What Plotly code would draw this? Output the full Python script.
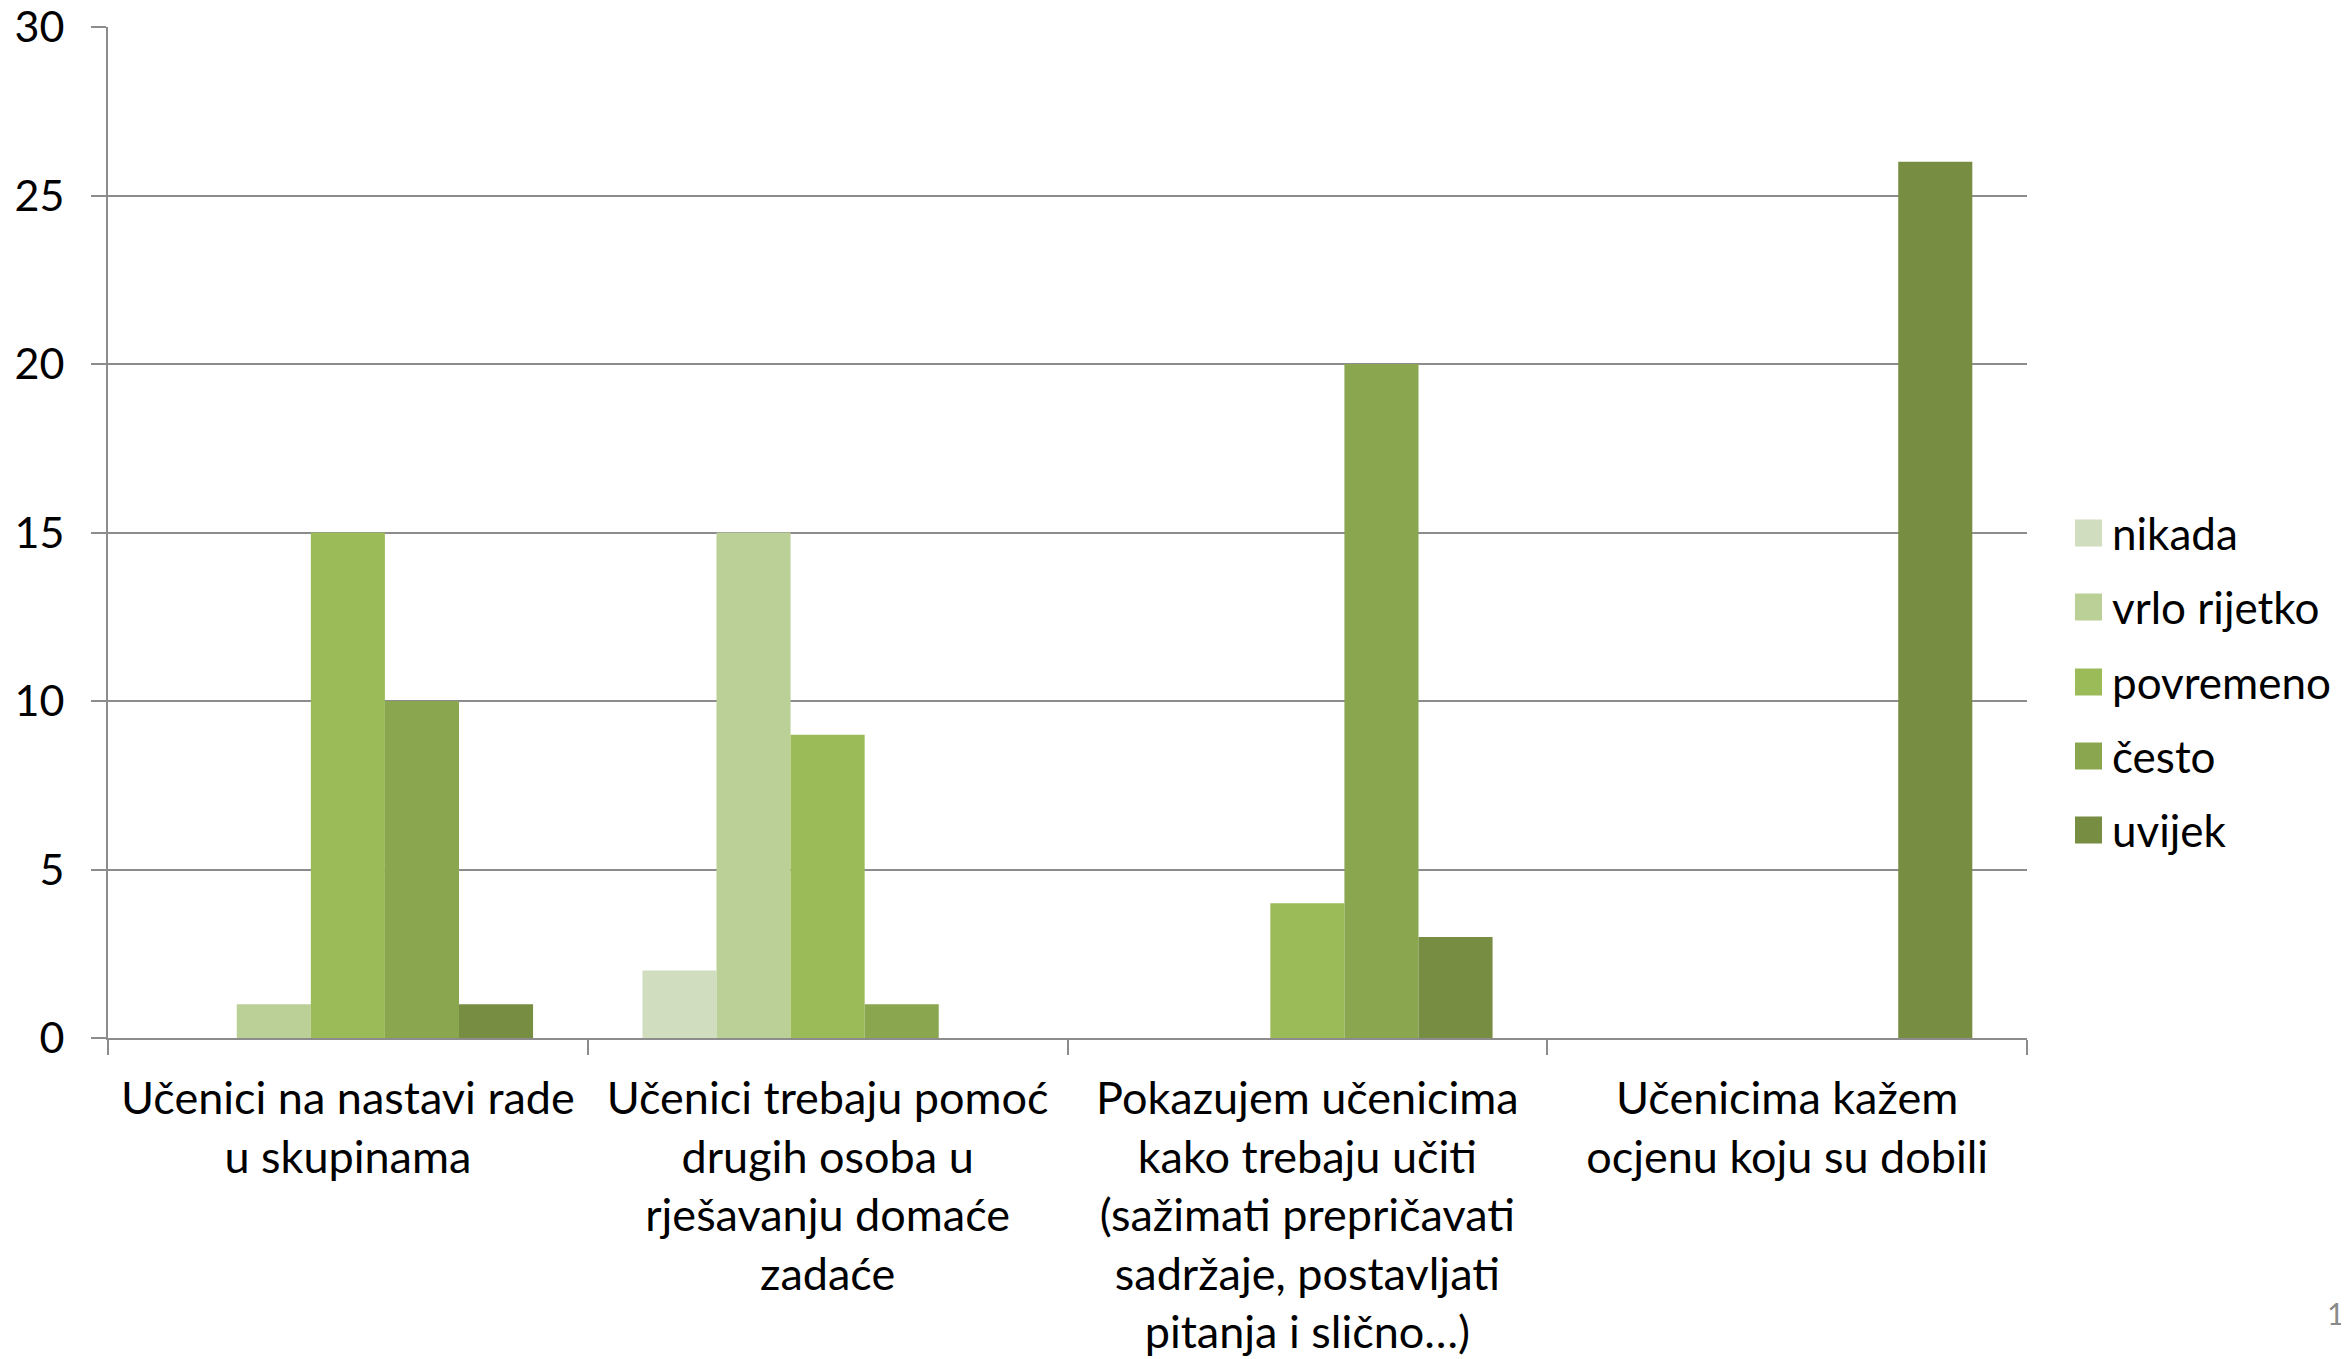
import plotly.graph_objects as go

categories = [
    "Učenici na nastavi rade<br>u skupinama",
    "Učenici trebaju pomoć<br>drugih osoba u<br>rješavanju domaće<br>zadaće",
    "Pokazujem učenicima<br>kako trebaju učiti<br>(sažimati prepričavati<br>sadržaje, postavljati<br>pitanja i slično…)",
    "Učenicima kažem<br>ocjenu koju su dobili",
]
series_names = ["nikada", "vrlo rijetko", "povremeno", "često", "uvijek"]
nikada = [0, 2, 0, 0]
vrlo_rijetko = [1, 15, 0, 0]
povremeno = [15, 9, 4, 0]
cesto = [10, 1, 20, 0]
uvijek = [1, 0, 3, 26]
series_values = [nikada, vrlo_rijetko, povremeno, cesto, uvijek]
colors = ["#D1DDBF", "#BBD097", "#9BBB59", "#8AA64F", "#768D42"]
y_ticks = [0, 5, 10, 15, 20, 25, 30]

FONT = "Lato"
GRAY = "#8C8C8C"
OFF = 8  # default page body margin
W, H = 2349 - OFF, 1359 - OFF
# plot area in page pixels
PL, PR, PT, PB = 108, 2027, 27, 1038
L, R, T, B = PL - OFF, PR - OFF, PT - OFF, PB - OFF


def px(xp):
    return (xp - OFF - L) / (R - L)


def py(yp):
    return (B - (yp - OFF)) / (B - T)


fig = go.Figure()
for name, vals, col in zip(series_names, series_values, colors):
    fig.add_trace(go.Bar(x=categories, y=vals, name=name, showlegend=False,
                         marker=dict(color=col, line=dict(width=0))))

fig.update_layout(
    width=W, height=H,
    margin=dict(l=L, r=W - R, t=T, b=H - B, autoexpand=False),
    paper_bgcolor="white", plot_bgcolor="white",
    barmode="group", bargap=0.228, bargroupgap=0,
    font=dict(family=FONT, color="black", size=44),
    showlegend=False,
    xaxis=dict(showline=True, linecolor=GRAY, linewidth=2,
               ticks="outside", tickson="boundaries", ticklen=15, tickwidth=2,
               tickcolor=GRAY, showgrid=False, ticklabelstandoff=20,
               tickfont=dict(size=45, family=FONT)),
    yaxis=dict(range=[0, 30.0001], tickvals=y_ticks, showline=True, linecolor=GRAY,
               linewidth=2, ticks="outside", ticklen=15, tickwidth=2,
               tickcolor=GRAY, showgrid=True, gridcolor=GRAY, gridwidth=2,
               zeroline=False, tickfont=dict(size=43, family=FONT),
               ticklabelstandoff=18, ticklabeloverflow="allow"),
)

# manual legend (large square swatches, as in the reference)
row_y = [533, 607, 682, 756, 830]
for name, col, yc in zip(series_names, colors, row_y):
    fig.add_shape(type="rect", xref="paper", yref="paper",
                  x0=px(2075), x1=px(2102), y0=py(yc + 13.5), y1=py(yc - 13.5),
                  fillcolor=col, line=dict(width=0))
    fig.add_annotation(text=name, xref="paper", yref="paper", x=px(2110), y=py(yc),
                       xanchor="left", yanchor="middle", showarrow=False,
                       font=dict(size=44, family=FONT, color="black"))

fig.add_annotation(text="11", x=px(2325), xref="paper", xanchor="left",
                   y=py(1313), yref="paper", yanchor="middle",
                   showarrow=False, font=dict(size=30, color="#8A8A8A", family=FONT))
fig.write_html("out.html")
